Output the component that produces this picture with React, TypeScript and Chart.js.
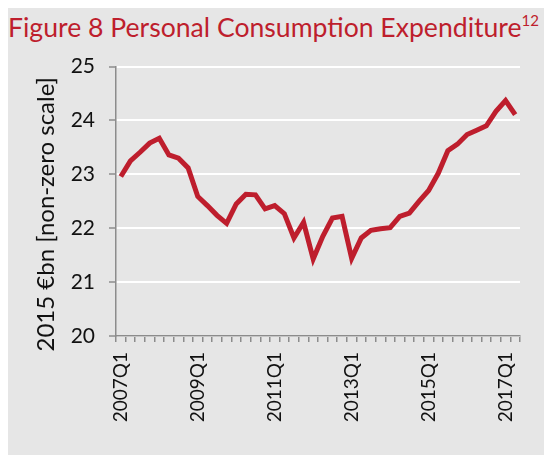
import React, { useEffect, useRef } from "react";
import { Chart, registerables } from "chart.js";

Chart.register(...registerables);

const categories: string[] = [];
for (let y = 2007; y <= 2017; y++) {
  for (let q = 1; q <= 4; q++) {
    if (y === 2017 && q > 2) break;
    categories.push(`${y}Q${q}`);
  }
}

const expenditure = [
  22.96, 23.25, 23.41, 23.58, 23.67, 23.36, 23.3, 23.12, 22.59, 22.42,
  22.24, 22.09, 22.45, 22.63, 22.62, 22.36, 22.42, 22.27, 21.82, 22.11,
  21.43, 21.85, 22.19, 22.22, 21.44, 21.82, 21.96, 21.99, 22.01, 22.22,
  22.28, 22.5, 22.7, 23.02, 23.44, 23.56, 23.74, 23.82, 23.9, 24.17,
  24.37, 24.11,
];

const yMin = 20;
const yMax = 25;
const titleText = "Figure 8 Personal Consumption Expenditure";
const yTitle = "2015 €bn [non-zero scale]";

const RED = "#BE1E2D";
const AXIS = "#8C8C8C";
const BG = "#E6E6E6";
const FONT = "Lato, 'Open Sans', sans-serif";

const yTitlePlugin = {
  id: "yTitleCustom",
  afterDraw(chart: any) {
    const ctx = chart.ctx;
    const area = chart.chartArea;
    ctx.save();
    ctx.translate(38, (area.top + area.bottom) / 2 + 13);
    ctx.rotate(-Math.PI / 2);
    ctx.font = `24px ${FONT}`;
    ctx.fillStyle = "#111";
    ctx.textAlign = "center";
    ctx.textBaseline = "middle";
    ctx.fillText(yTitle, 0, 0);
    ctx.restore();
  },
};

export default function App() {
  const ref = useRef<HTMLCanvasElement | null>(null);
  useEffect(() => {
    if (!ref.current) return;
    const chart = new Chart(ref.current, {
      type: "line",
      data: {
        labels: categories,
        datasets: [
          {
            data: expenditure,
            borderColor: RED,
            borderWidth: 5,
            pointRadius: 0,
            tension: 0,
            fill: false,
          },
        ],
      },
      plugins: [yTitlePlugin],
      options: {
        animation: false,
        responsive: false,
        maintainAspectRatio: false,
        layout: { padding: { top: 11, right: 32, bottom: 0, left: 0 } },
        plugins: { legend: { display: false }, tooltip: { enabled: false } },
        scales: {
          x: {
            type: "category",
            offset: true,
            afterFit: (s: any) => {
              s.height = 119;
            },
            grid: {
              display: true,
              offset: true,
              drawOnChartArea: false,
              drawTicks: true,
              tickLength: 6,
              color: AXIS,
              tickColor: AXIS,
              lineWidth: 1.5,
            },
            border: { display: true, color: AXIS, width: 1.5 },
            ticks: {
              autoSkip: false,
              maxRotation: 90,
              minRotation: 90,
              padding: 10,
              color: "#111",
              font: { family: FONT, size: 19 },
              callback: (_v: any, i: number) => (i % 8 === 0 ? categories[i] : ""),
            },
          },
          y: {
            min: yMin,
            max: yMax,
            afterFit: (s: any) => {
              s.width = 108;
            },
            grid: {
              color: "#FFFFFF",
              lineWidth: 2,
              tickColor: AXIS,
              tickLength: 7,
              tickWidth: 1.5,
            },
            border: { display: true, color: AXIS, width: 1.5 },
            ticks: {
              stepSize: 1,
              padding: 14,
              color: "#111",
              font: { family: FONT, size: 21 },
            },
          },
        },
      },
    });
    return () => chart.destroy();
  }, []);

  return (
    <div
      style={{
        position: "relative",
        width: 544,
        height: 447,
        background: BG,
        fontFamily: FONT,
      }}
    >
      <div
        style={{
          position: "absolute",
          left: 0,
          top: 2,
          color: RED,
          fontSize: 26.6,
          whiteSpace: "nowrap",
          lineHeight: "34px",
        }}
      >
        {titleText}
        <sup style={{ fontSize: 15, verticalAlign: "top", lineHeight: "20px" }}>12</sup>
      </div>
      <canvas
        ref={ref}
        width={544}
        height={415}
        style={{ position: "absolute", left: 0, top: 32, width: 544, height: 415 }}
      />
    </div>
  );
}
